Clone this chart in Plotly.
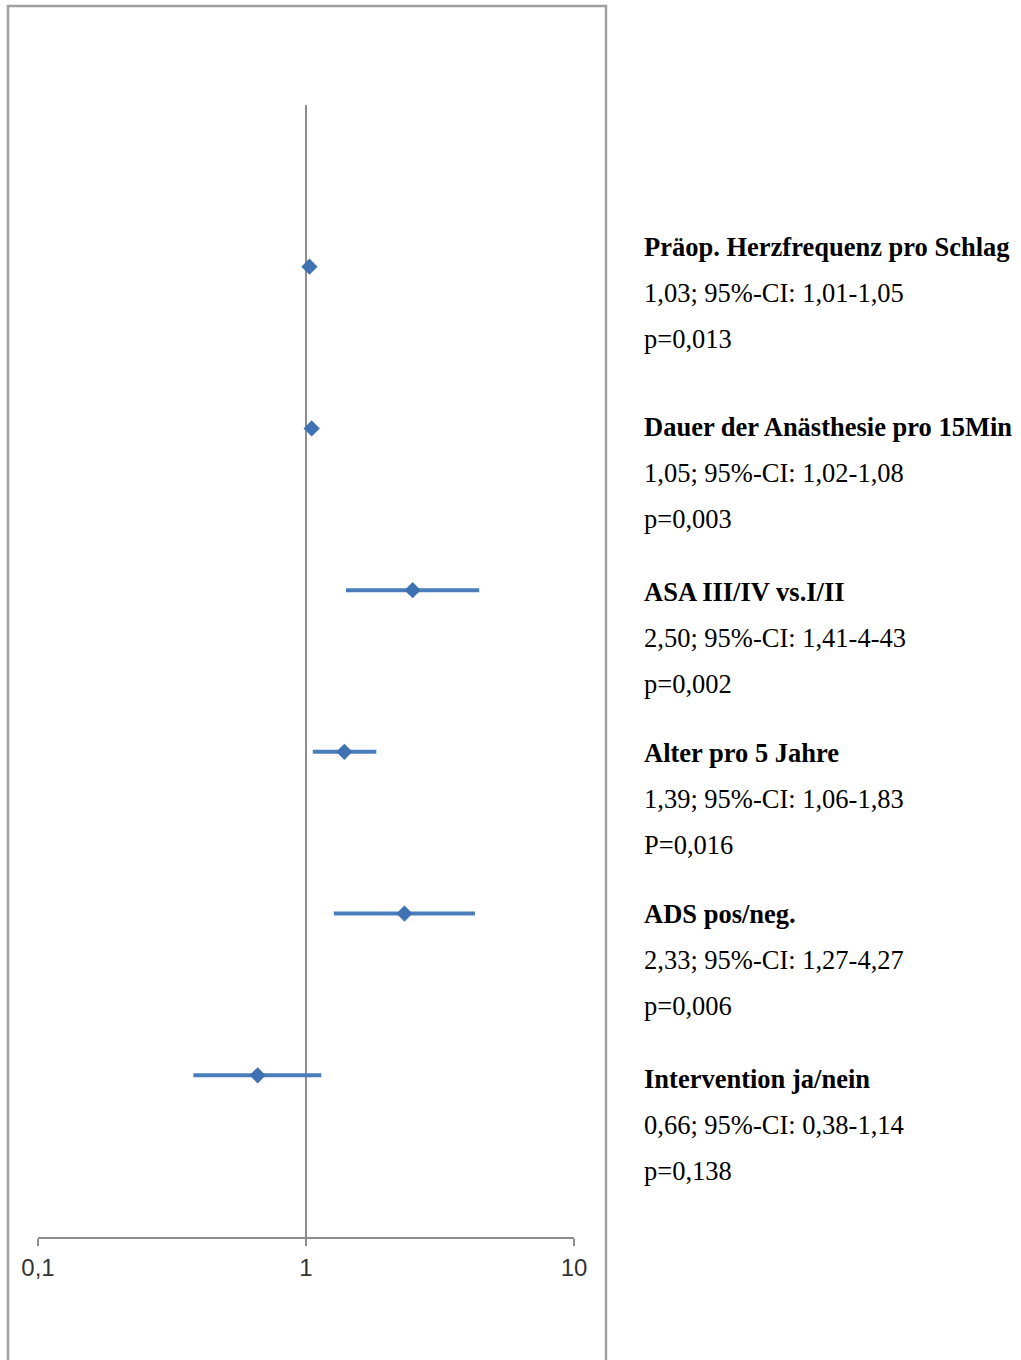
import plotly.graph_objects as go

# ---- data (top to bottom) ----
factors = ["Präop. Herzfrequenz pro Schlag", "Dauer der Anästhesie pro 15Min",
           "ASA III/IV vs.I/II", "Alter pro 5 Jahre", "ADS pos/neg.", "Intervention ja/nein"]
odds_ratio = [1.03, 1.05, 2.50, 1.39, 2.33, 0.66]
ci_low = [1.01, 1.02, 1.41, 1.06, 1.27, 0.38]
ci_high = [1.05, 1.08, 4.43, 1.83, 4.27, 1.14]
value_text = ["1,03; 95%-CI: 1,01-1,05", "1,05; 95%-CI: 1,02-1,08", "2,50; 95%-CI: 1,41-4-43",
              "1,39; 95%-CI: 1,06-1,83", "2,33; 95%-CI: 1,27-4,27", "0,66; 95%-CI: 0,38-1,14"]
p_text = ["p=0,013", "p=0,003", "p=0,002", "P=0,016", "p=0,006", "p=0,138"]
tick_vals = [0.1, 1, 10]
tick_text = ["0,1", "1", "10"]

# ---- layout helpers ----
W, H = 1021, 1360
n = len(factors)
ypos = [n - i for i in range(n)]           # 6 .. 1
y_bottom_px, y_top_px = 1237, 105
unit = (y_bottom_px - y_top_px) / (n + 1)
title_px = [247, 427, 592, 753, 914, 1079]  # text line centres (layout)
line_gap = 46

def px_to_y(py):
    return (y_bottom_px - py) / unit

blue = "#4a7ebb"
gray = "#8c8c8c"

fig = go.Figure()
fig.add_trace(go.Scatter(
    x=odds_ratio, y=ypos, mode="markers",
    marker=dict(symbol="diamond", size=12.5, color="#3f72b2"),
    error_x=dict(type="data", symmetric=False,
                 array=[h - o for h, o in zip(ci_high, odds_ratio)],
                 arrayminus=[o - l for o, l in zip(odds_ratio, ci_low)],
                 color=blue, thickness=4, width=0),
    showlegend=False, hoverinfo="skip", cliponaxis=False))

# vertical reference line at OR = 1
fig.add_shape(type="line", xref="x", yref="y", x0=1, x1=1, y0=0, y1=n + 1,
              line=dict(color=gray, width=2), layer="below")

# outer frame
fig.add_shape(type="rect", xref="paper", yref="paper",
              x0=8 / W, x1=606 / W, y0=-0.05, y1=1 - 6 / H,
              line=dict(color="#a0a0a0", width=2.5), fillcolor="rgba(0,0,0,0)")

annotations = []
tx = 642 / W
for i in range(n):
    for k, (txt, bold) in enumerate([(factors[i], True), (value_text[i], False), (p_text[i], False)]):
        annotations.append(dict(
            x=tx, xref="paper", xanchor="left",
            y=px_to_y(title_px[i] + k * line_gap), yref="y", yanchor="middle",
            text=f"<b>{txt}</b>" if bold else txt, showarrow=False,
            font=dict(family="Liberation Serif", size=26.5, color="black")))

fig.update_layout(
    width=W, height=H, margin=dict(l=0, r=0, t=0, b=0, pad=0, autoexpand=False),
    paper_bgcolor="white", plot_bgcolor="white",
    xaxis=dict(type="log", range=[-1, 1], domain=[38 / W, 574 / W],
               tickvals=tick_vals, ticktext=tick_text, automargin=False,
               showline=True, linecolor=gray, linewidth=2,
               ticks="outside", ticklen=7, tickwidth=2, tickcolor=gray,
               ticklabelstandoff=1,
               showgrid=False, zeroline=False,
               tickfont=dict(family="Liberation Sans", size=24, color="#333333")),
    yaxis=dict(range=[0, n + 1], domain=[1 - y_bottom_px / H, 1 - y_top_px / H],
               visible=False, automargin=False),
    annotations=annotations,
)

fig.write_html("out.html", config={"displayModeBar": False, "staticPlot": True},
               post_script="document.body.style.margin='0';document.body.style.overflow='hidden';")
